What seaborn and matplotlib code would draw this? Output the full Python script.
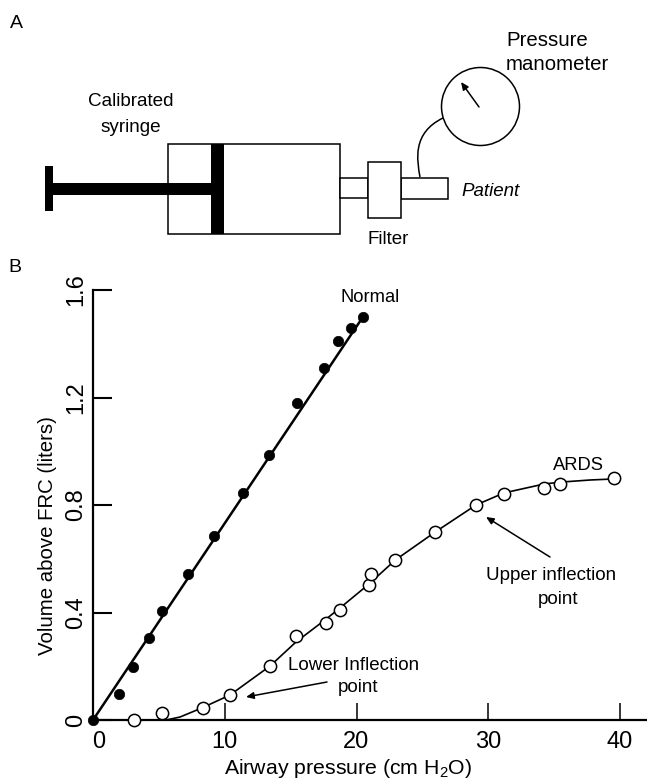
import matplotlib
matplotlib.use("Agg")
import matplotlib.pyplot as plt
from matplotlib.patches import Rectangle, Circle, PathPatch
from matplotlib.path import Path
from matplotlib.transforms import ScaledTranslation
import seaborn as sns
import pandas as pd

# ---- data ----
normal_pressure = [0.0, 1.97, 3.0, 4.23, 5.24, 7.19, 9.18, 11.4, 13.33, 15.48, 17.53, 18.56, 19.58, 20.49]
normal_volume = [0.0, 0.098, 0.197, 0.305, 0.405, 0.543, 0.685, 0.845, 0.985, 1.18, 1.31, 1.41, 1.46, 1.50]
normal_line_p = [0.0, 20.49]
normal_line_v = [0.0, 1.50]

ards_pressure = [3.1, 5.2, 8.33, 10.42, 13.4, 15.4, 17.65, 18.75, 20.93, 21.13, 22.94, 25.96, 29.09, 31.2, 34.25, 35.47, 39.56]
ards_volume = [0.0, 0.027, 0.046, 0.093, 0.202, 0.312, 0.362, 0.409, 0.501, 0.542, 0.595, 0.700, 0.800, 0.840, 0.865, 0.880, 0.900]
ards_curve_p = [5.54, 6.6, 8.27, 10.4, 13.44, 15.4, 17.6, 18.75, 20.95, 22.94, 25.96, 29.07, 31.2, 34.23, 35.45, 37.72, 39.56]
ards_curve_v = [0.0, 0.011, 0.045, 0.093, 0.201, 0.290, 0.372, 0.417, 0.506, 0.595, 0.699, 0.800, 0.845, 0.878, 0.885, 0.893, 0.897]

x_ticks = [0, 10, 20, 30, 40]
y_ticks = [0, 0.4, 0.8, 1.2, 1.6]
y_tick_labels = ["0", "0.4", "0.8", "1.2", "1.6"]

W, H = 647, 781
AX_L, AX_R, AX_T, AX_B = 93, 647, 290, 720
PX_PER_X = 13.175

sns.set_style("white")
plt.rcParams["font.family"] = ["Liberation Sans", "DejaVu Sans"]
plt.rcParams["mathtext.default"] = "regular"
plt.rcParams["text.color"] = "black"
plt.rcParams["axes.labelcolor"] = "black"
plt.rcParams["xtick.color"] = "black"
plt.rcParams["ytick.color"] = "black"

fig = plt.figure(figsize=(W / 100, H / 100), dpi=100)
ax = fig.add_axes([AX_L / W, 1 - AX_B / H, (AX_R - AX_L) / W, (AX_B - AX_T) / H])

normal_df = pd.DataFrame({"p": normal_pressure, "v": normal_volume})
ards_df = pd.DataFrame({"p": ards_pressure, "v": ards_volume})

sns.lineplot(x=normal_line_p, y=normal_line_v, ax=ax, color="black", lw=1.8, sort=False, estimator=None, zorder=3)
sns.lineplot(x=ards_curve_p, y=ards_curve_v, ax=ax, color="black", lw=1.2, sort=False, estimator=None, zorder=3)
sns.scatterplot(data=normal_df, x="p", y="v", ax=ax, color="black", s=56, edgecolor="black", linewidth=0.5, zorder=5, clip_on=False)
sns.scatterplot(data=ards_df, x="p", y="v", ax=ax, facecolor="white", s=78, edgecolor="black", linewidth=1.1, zorder=5, clip_on=False)

ax.set_xlim(0, (AX_R - AX_L) / PX_PER_X)
ax.set_ylim(0, 1.6)
ax.set_xticks(x_ticks)
ax.set_yticks(y_ticks)
ax.set_yticklabels(y_tick_labels, rotation=90, va="center", fontsize=17)
ax.tick_params(axis="x", direction="in", length=12, width=1.1, labelsize=17, pad=8, bottom=True)
ax.tick_params(axis="y", direction="in", length=14, width=1.5, pad=4, left=True)
# the "0" sits a little right of the axis in the reference
lbl0 = ax.get_xticklabels()[0]
lbl0.set_transform(lbl0.get_transform() + ScaledTranslation(6 / 100, 0, fig.dpi_scale_trans))

ax.set_xlabel("Airway pressure (cm H$_2$O)", fontsize=15.3)
ax.xaxis.set_label_coords((348.5 - AX_L) / (AX_R - AX_L), (AX_B - 757) / (AX_B - AX_T), transform=ax.transAxes)
ax.set_ylabel("Volume above FRC (liters)", fontsize=14.7)
ax.yaxis.set_label_coords((57 - AX_L) / (AX_R - AX_L), (AX_B - 536) / (AX_B - AX_T), transform=ax.transAxes)
sns.despine(ax=ax)
for s in ("left", "bottom"):
    ax.spines[s].set_linewidth(1.6)
    ax.spines[s].set_color("black")
ax.set_facecolor("none")

# ---- overlay in picture pixels: apparatus sketch and captions ----
ov = fig.add_axes([0, 0, 1, 1], zorder=10)
ov.set_xlim(0, W)
ov.set_ylim(H, 0)
ov.axis("off")
ov.patch.set_alpha(0)

def box(x0, x1, y0, y1, fc="white", lw=1.1):
    ov.add_patch(Rectangle((x0, y0), x1 - x0, y1 - y0, fc=fc, ec="black", lw=lw))

box(168, 340, 144, 234)
box(340, 368, 178, 198)
box(401, 448, 178, 199)
box(368, 401, 162, 218)
for b in [(211, 224, 144, 234), (53, 211, 183, 195), (45, 53, 166, 211)]:
    box(*b, fc="black", lw=0)

ov.add_patch(Circle((480.5, 106.5), 39, fc="white", ec="black", lw=1.1))
ov.add_patch(PathPatch(Path([(443, 118), (412, 133), (417, 160), (420, 177)],
                            [Path.MOVETO, Path.CURVE4, Path.CURVE4, Path.CURVE4]),
                       fc="none", ec="black", lw=1.1))

arrow = dict(arrowstyle="-|>,head_length=0.45,head_width=0.2", color="black", lw=1.1, shrinkA=0, shrinkB=0)
ov.annotate("", xy=(461, 82), xytext=(479, 107), arrowprops=arrow)
ov.annotate("", xy=(246, 697), xytext=(327, 682), arrowprops=arrow)
ov.annotate("", xy=(486, 517), xytext=(550, 557), arrowprops=arrow)

captions = [
    ("A", 16.5, 23, 14, "center", "normal"),
    ("B", 15, 268, 14, "center", "normal"),
    ("Pressure", 506, 41, 14.7, "left", "normal"),
    ("manometer", 506, 65, 14.7, "left", "normal"),
    ("Calibrated", 131, 102, 13.6, "center", "normal"),
    ("syringe", 131, 127, 13.6, "center", "normal"),
    ("Patient", 461, 191, 13.5, "left", "italic"),
    ("Filter", 388, 240, 13.5, "center", "normal"),
    ("Normal", 370, 298, 13.2, "center", "normal"),
    ("ARDS", 578, 465, 13.2, "center", "normal"),
    ("Upper inflection", 551, 576, 13.5, "center", "normal"),
    ("point", 558, 600, 13.5, "center", "normal"),
    ("Lower Inflection", 354, 665, 13.5, "center", "normal"),
    ("point", 358, 688, 13.5, "center", "normal"),
]
for txt, x, y, fs, ha, st in captions:
    ov.text(x, y, txt, fontsize=fs, ha=ha, va="center", style=st, color="black")

fig.savefig("out.png", dpi=100)
